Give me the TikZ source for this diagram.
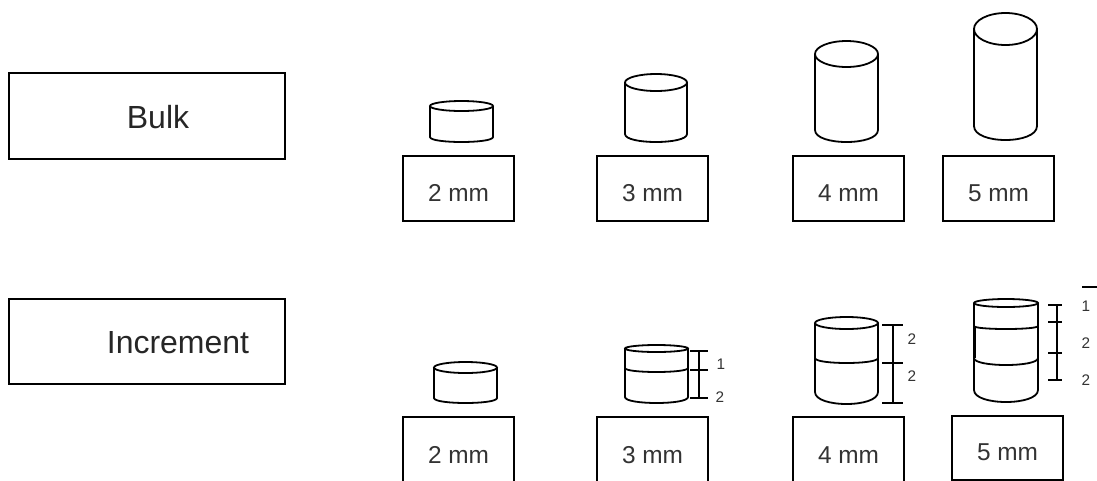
\documentclass[tikz,border=0pt]{standalone}
\usepackage{fontspec}
\setmainfont{Liberation Sans}
\usetikzlibrary{positioning}
\definecolor{txtGrey}{HTML}{333333}
% pellet: left, right, top centre, top radius, side end, lowest point
\newcommand{\pellet}[6]{%
  \draw[cyl] ({(#1+#2)/2},#3) ellipse [x radius={(#2-#1)/2}, y radius=#4];
  \draw[cyl] (#1,#3) -- (#1,#5)
    .. controls (#1,{#5+4/3*(#6-#5)}) and (#2,{#5+4/3*(#6-#5)}) .. (#2,#5) -- (#2,#3);
}
% layer line on a pellet: left, right, edge height, sag
\newcommand{\layerline}[4]{%
  \draw[cyl] (#1,#3) .. controls (#1,{#3+4/3*#4}) and (#2,{#3+4/3*#4}) .. (#2,#3);
}
\begin{document}
\begin{tikzpicture}[x=0.75pt, y=-0.75pt,
      sizebox/.style={draw=black, line width=1.5pt, minimum width=83pt, minimum height=49pt,
        inner sep=0pt, text height=20pt, text depth=0pt, text=txtGrey, font=\fontsize{18.3}{20}\selectfont},
      groupbox/.style={draw=black, line width=1.5pt, minimum width=206.5pt, minimum height=64pt,
        inner sep=0pt, text height=18.5pt, text depth=0pt, text=black!85, font=\fontsize{24}{26}\selectfont},
      cyl/.style={draw=black, line width=1.35pt},
      gauge/.style={draw=black, line width=1.4pt},
      num/.style={inner sep=0pt, text=txtGrey, font=\fontsize{11.5}{12}\selectfont}]
    \useasboundingbox (0,0) rectangle (1097,480);
    % left column
    \node[groupbox] (bulk) at (147,116) {\hspace*{16.5pt}Bulk};
    \node[groupbox] (increment) at (147,341.5) {\hspace*{46.5pt}Increment};
    % row 1: bulk
    \node[sizebox] (b2) at (458.5,188.5) {2 mm};
    \node[sizebox] (b3) at (652.5,188.5) {3 mm};
    \node[sizebox] (b4) at (848.5,188.5) {4 mm};
    \node[sizebox] (b5) at (998.5,188.5) {5 mm};
    \pellet{430}{493}{106}{5}{137}{142}
    \pellet{625}{687}{82.5}{8.5}{134}{142}
    \pellet{815}{878}{54}{13}{130}{142}
    \pellet{974}{1037}{29}{16}{126}{140}
    % row 2: increment
    \node[sizebox] (i2) at (458.5,450) {2 mm};
    \node[sizebox] (i3) at (652.5,450) {3 mm};
    \node[sizebox] (i4) at (848.5,450) {4 mm};
    \node[sizebox, minimum height=48pt] (i5) at (1007.5,447.5) {5 mm};
    \pellet{434}{497}{367.5}{5.5}{398}{403}
    \pellet{625}{688}{348.5}{3.5}{397}{403}
    \layerline{625}{688}{368}{4}
    \pellet{815}{878}{323}{6}{392}{404}
    \layerline{815}{878}{358}{5}
    \pellet{974}{1038}{303}{4}{390}{402}
    \layerline{974}{1038}{326}{3}
    \layerline{974}{1038}{358}{7}
    \draw[cyl, line width=1.9pt] (974.5,327) -- (974.5,358);
    % gauges beside the layered pellets
    \draw[gauge] (699,351) -- (699,398);
    \foreach \yy in {351,370,398} \draw[gauge] (690,\yy) -- (708,\yy);
    \draw[gauge] (893,325) -- (893,403);
    \foreach \yy in {325,363,403} \draw[gauge] (882,\yy) -- (903,\yy);
    \draw[gauge] (1057,305) -- (1057,380);
    \foreach \yy in {305,322,353,380} \draw[gauge] (1048,\yy) -- (1062,\yy);
    \draw[gauge] (1082,287) -- (1097,287);
    % layer thickness numbers
    \node[num] (n31) at (721,364) {1};
    \node[num] (n32) at (720,397) {2};
    \node[num] (n41) at (912,339) {2};
    \node[num] (n42) at (912,376) {2};
    \node[num] (n51) at (1086,306) {1};
    \node[num] (n52) at (1086,343) {2};
    \node[num] (n53) at (1086,380) {2};
\end{tikzpicture}
\end{document}
